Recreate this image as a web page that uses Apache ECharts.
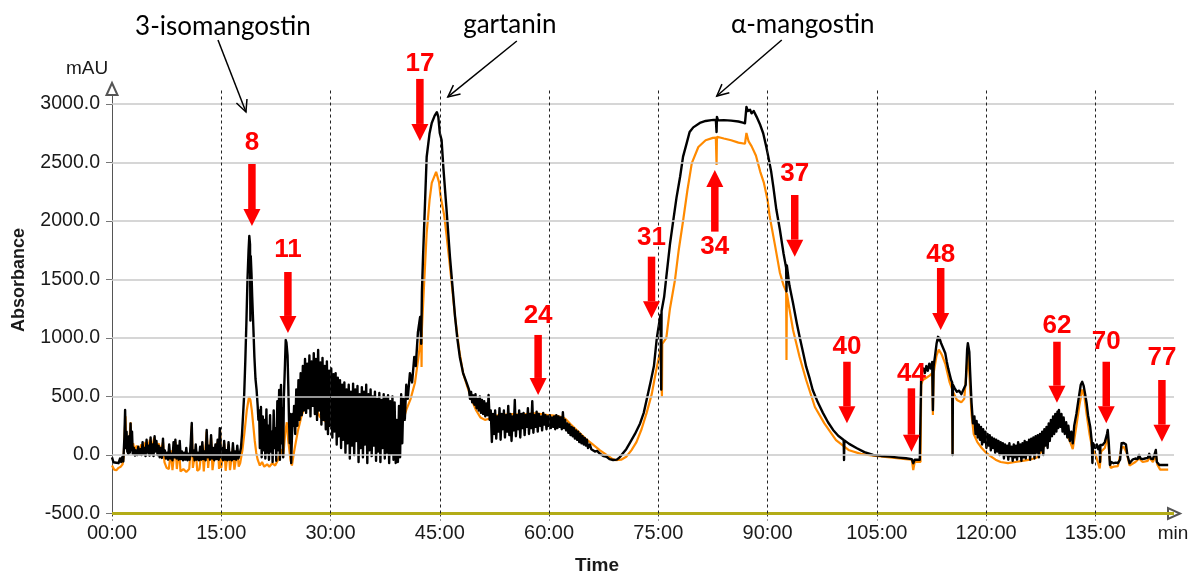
<!DOCTYPE html>
<html>
<head>
<meta charset="utf-8">
<script src="https://cdn.jsdelivr.net/npm/echarts@6/dist/echarts.min.js"></script>
<style>
html,body{margin:0;padding:0;background:#fff;}
#chart{width:1190px;height:575px;}
</style>
</head>
<body>
<div id="chart"></div>
<script>
// ---- axis ticks ----
const xTicks = [0, 15, 30, 45, 60, 75, 90, 105, 120, 135];
const yTicks = [-500, 0, 500, 1000, 1500, 2000, 2500, 3000];
const xMax = 145.8;
const yMin = -500, yMax = 3128;

// ---- traces: [time (min), absorbance (mAU)] ----
const blackTrace = [
[0,-20],[0.2,-62],[0.6,-66],[0.9,-70],[1.1,-30],[1.25,-60],[1.4,-20],[1.55,-55],[1.7,150],[1.8,385],[1.9,60],[2.0,200],[2.1,30],[2.25,10],[2.35,160],[2.45,20],[2.55,270],[2.65,40],[2.75,200],[2.85,10],[3.0,60],[3.15,-5],[3.3,40],[3.45,0],[3.6,70],[3.75,5],[3.9,50],[4.05,0],[4.2,110],[4.3,10],[4.45,60],[4.6,-10],[4.75,130],[4.85,20],[5.0,80],[5.15,-5],[5.3,150],[5.4,10],[5.55,90],[5.7,-10],[5.85,160],[5.95,30],[6.1,120],[6.25,0],[6.4,80],[6.55,-20],[6.7,60],[6.85,-25],[7.0,140],[7.1,0],[7.25,40],[7.4,-30],[7.55,20],[7.7,-40],[7.85,90],[8.0,-30],[8.15,10],[8.3,-45],[8.45,110],[8.55,-20],[8.7,130],[8.85,-30],[9.0,80],[9.15,-40],[9.3,120],[9.45,-35],[9.6,30],[9.75,-45],[9.9,20],[10.05,-40],[10.2,60],[10.35,-45],[10.5,10],[10.65,-40],[10.8,100],[10.95,273],[11.05,-10],[11.2,40],[11.35,-45],[11.5,90],[11.65,-40],[11.8,20],[11.95,-45],[12.1,70],[12.25,-40],[12.4,110],[12.55,-35],[12.7,30],[12.85,-45],[13.0,214],[13.15,-20],[13.3,80],[13.45,-40],[13.6,170],[13.75,-30],[13.9,60],[14.05,-45],[14.2,90],[14.35,-35],[14.5,130],[14.65,-40],[14.8,230],[14.95,-20],[15.1,60],[15.25,-45],[15.4,120],[15.55,-40],[15.7,40],[15.85,-45],[16.0,110],[16.15,-40],[16.3,20],[16.45,-45],[16.6,100],[16.75,-35],[16.9,30],[17.05,-40],[17.2,80],[17.35,-30],
[17.5,0],[17.7,60],[17.85,180],[18.0,350],[18.15,520],[18.3,800],[18.45,1130],[18.6,1500],[18.75,1750],[18.85,1872],[18.95,1800],[19.0,1150],[19.05,1700],[19.15,1550],[19.25,1350],[19.4,1100],[19.55,838],[19.7,650],[19.85,556],[20.0,420],[20.1,300],
[20.2,380],[20.3,60],[20.45,410],[20.55,-20],[20.7,330],[20.8,40],[20.95,300],[21.05,-30],[21.2,390],[21.3,20],[21.45,250],[21.55,-40],[21.7,340],[21.8,30],[21.95,200],[22.05,-60],[22.2,380],[22.3,60],[22.45,230],[22.55,-50],[22.7,460],[22.8,40],[22.95,555],[23.05,-40],[23.2,598],[23.3,100],[23.4,400],[23.5,-20],[23.6,500],
[23.75,780],[23.85,983],[23.95,960],[24.1,850],[24.2,600],[24.3,300],[24.4,100],[24.5,350],[24.6,-68],[24.7,150],[24.8,350],[24.9,250],
[25.0,420],[25.15,180],[25.3,560],[25.45,250],[25.6,640],[25.75,300],[25.9,700],[26.05,340],[26.2,760],[26.35,380],[26.5,820],[26.65,360],[26.8,780],[26.95,400],[27.1,850],[27.25,330],[27.4,800],[27.55,420],[27.7,870],[27.85,350],[28.0,820],[28.15,300],[28.3,897],[28.45,380],[28.6,790],[28.75,260],[28.9,830],[29.05,300],[29.2,760],[29.35,220],[29.5,800],[29.65,180],[29.8,720],[29.95,250],[30.1,740],[30.25,150],[30.4,690],[30.55,200],[30.7,700],[30.85,90],[31.0,660],[31.15,160],[31.3,640],[31.45,60],[31.6,600],[31.75,130],[31.9,620],[32.05,20],[32.2,560],[32.35,100],[32.5,600],[32.65,-30],[32.8,540],[32.95,80],[33.1,610],[33.25,0],[33.4,560],[33.55,120],[33.7,590],[33.85,-60],[34.0,520],[34.15,60],[34.3,580],[34.45,-20],[34.6,540],[34.75,90],[34.9,600],[35.05,-68],[35.2,520],[35.35,40],[35.5,560],[35.65,-10],[35.8,500],[35.95,80],[36.1,540],[36.25,-50],[36.4,480],[36.55,30],[36.7,530],[36.85,-60],[37.0,470],[37.15,60],[37.3,520],[37.45,-30],[37.6,490],[37.75,20],[37.9,510],[38.05,-68],[38.2,460],[38.35,10],[38.5,500],[38.65,-40],[38.8,450],[38.95,-68],[39.1,300],[39.25,-60],[39.4,420],[39.55,-20],[39.7,520],[39.85,100],
[40.0,480],[40.2,300],[40.4,600],[40.6,480],[40.9,700],[41.2,620],[41.5,838],[41.7,760],[42.0,1050],[42.3,1180],[42.45,950],[42.55,1400],[42.7,1692],[43.0,2200],[43.2,2547],[43.6,2750],[43.9,2838],[44.3,2900],[44.6,2930],[44.8,2890],[45.0,2752],[45.25,2692],[45.5,2450],[45.9,2120],[46.4,1692],[46.8,1400],[47.1,1180],[47.4,1000],[47.75,838],[48.2,700],[48.7,615],
[49.0,560],[49.15,480],[49.3,540],[49.45,450],[49.6,510],[49.75,430],[49.9,520],[50.05,400],[50.2,480],[50.35,380],[50.5,500],[50.65,360],[50.8,470],[50.95,350],[51.1,460],[51.25,330],[51.4,440],[51.55,340],[51.7,513],[51.85,300],[52.0,380],[52.15,111],[52.3,350],
[52.45,180],[52.6,380],[52.75,140],[52.9,330],[53.05,200],[53.2,400],[53.35,130],[53.5,350],[53.65,220],[53.8,380],[53.95,150],[54.1,340],[54.25,200],[54.4,420],[54.55,170],[54.7,350],[54.85,120],[55.0,330],[55.15,210],[55.3,470],[55.45,160],[55.6,340],[55.75,220],[55.9,380],[56.05,150],[56.2,350],[56.35,230],[56.5,360],[56.65,170],[56.8,340],[56.95,240],[57.1,400],[57.25,180],[57.4,350],[57.55,230],[57.7,460],[57.85,190],[58.0,340],[58.15,240],[58.3,370],[58.45,200],[58.6,350],[58.75,250],[58.9,330],[59.05,210],[59.2,360],[59.35,260],[59.5,340],[59.65,220],[59.8,330],[59.95,250],[60.1,340],[60.25,230],[60.4,320],[60.55,240],[60.7,330],[60.85,220],[61.0,340],[61.15,230],[61.3,330],[61.45,240],[61.6,320],[61.75,220],[61.9,365],[62.05,230],[62.2,300],[62.35,210],[62.5,270],[62.65,190],[62.8,260],[62.95,170],[63.1,240],[63.25,160],[63.4,230],[63.55,140],[63.7,210],[63.85,130],[64.0,200],[64.15,110],[64.3,180],[64.45,100],[64.6,160],[64.75,90],[64.9,145],[65.05,80],[65.2,130],[65.35,60],[65.6,90],[65.8,50],[66.0,60],[66.3,30],[66.6,35],[67.0,10],[67.5,-10],[67.9,-15],[68.3,-35],[68.8,-43],[69.3,-40],[69.7,-20],[70.2,20],[70.6,50],[71.1,103],[71.8,180],[72.5,270],[73.0,360],[73.5,500],[74.0,640],[74.4,760],[74.8,1000],[75.3,1200],[75.4,560],[75.45,1230],[75.8,1350],[76.1,1520],[76.6,1800],[77.0,1980],[77.5,2200],[78.0,2380],[78.4,2550],[78.9,2665],[79.3,2760],[79.8,2800],[80.7,2838],[81.5,2855],[82.3,2862],[82.9,2865],[83.0,2760],[83.05,2890],[83.2,2860],[84.0,2862],[85.0,2858],[86.0,2850],[86.6,2840],[86.9,2835],[87.1,2975],[87.3,2940],[87.6,2950],[87.8,2920],[88.1,2940],[88.5,2890],[89.0,2820],[89.4,2750],[89.8,2640],[90.1,2550],[90.5,2420],[90.8,2290],[91.2,2100],[91.7,1923],[92.2,1720],[92.55,1600],[92.6,1400],[92.65,1620],[93.0,1450],[93.5,1296],[94.0,1130],[94.4,1010],[94.9,870],[95.3,755],[95.8,650],[96.2,555],[96.9,450],[97.6,360],[98.3,280],[99.0,214],[99.7,165],[100.45,128],[100.5,-43],[100.55,125],[101.2,95],[102.2,60],[103.3,25],[104.5,0],[105.6,-8],[106.8,-14],[108.0,-22],[109.0,-28],[109.8,-35],[110.0,-70],[110.2,-40],[110.9,-40],[111.05,-30],
[111.1,710],[111.4,740],[111.6,700],[111.8,760],[112.0,720],[112.2,780],[112.4,740],[112.6,795],[112.7,385],[112.8,760],[113.0,850],[113.2,950],[113.4,1010],[113.5,980],[113.6,1000],[113.8,960],[114.0,930],[114.2,900],[114.4,870],[114.6,800],[114.8,740],[115.0,690],[115.2,640],[115.35,620],[115.4,0],[115.45,600],[115.7,570],[116.0,540],[116.3,550],[116.6,520],[116.9,560],[117.2,600],[117.4,900],[117.5,955],[117.7,880],[117.8,726],[118.0,450],[118.2,270],[118.4,330],[118.55,180],[118.7,290],[118.85,150],[119.0,260],[119.15,130],[119.3,240],[119.45,90],[119.6,220],[119.75,110],[119.9,200],[120.05,60],[120.2,180],[120.35,80],[120.5,170],[120.65,40],[120.8,150],[120.95,60],[121.1,140],[121.25,20],[121.4,130],[121.55,30],[121.7,120],[121.85,0],[122.0,110],[122.15,10],[122.3,100],[122.45,-30],[122.6,90],[122.75,0],[122.9,80],[123.05,-40],[123.2,100],[123.35,-10],[123.5,70],[123.65,-50],[123.8,90],[123.95,-20],[124.1,80],[124.25,-40],[124.4,110],[124.55,-10],[124.7,90],[124.85,-50],[125.0,100],[125.15,-20],[125.3,120],[125.45,-30],[125.6,110],[125.75,0],[125.9,130],[126.05,-40],[126.2,140],[126.35,10],[126.5,150],[126.65,-30],[126.8,160],[126.95,20],[127.1,170],[127.25,-20],[127.4,180],[127.55,40],[127.7,200],[127.85,0],[128.0,220],[128.15,80],[128.3,240],[128.45,60],[128.6,270],[128.75,120],[128.9,300],[129.05,160],[129.2,330],[129.35,180],[129.5,350],[129.65,200],[129.8,370],[129.9,230],[130.0,385],[130.2,240],[130.35,350],[130.5,200],[130.65,320],[130.8,180],[131.0,280],[131.15,150],[131.3,250],[131.5,120],[131.7,200],[131.9,100],[132.1,250],[132.4,350],[132.7,480],[133.0,600],[133.2,625],[133.4,590],[133.6,520],[133.8,445],[134.0,340],[134.3,240],[134.5,120],[134.6,-68],[134.7,100],[135.0,60],[135.2,90],[135.4,50],[135.6,80],[135.65,-60],[135.7,85],[136.0,85],[136.3,110],[136.6,180],[136.7,214],[136.85,100],[137.0,-85],[137.2,-60],[137.5,-70],[137.8,-65],[138.1,-70],[138.4,-40],[138.6,100],[138.9,103],[139.2,90],[139.4,0],[139.7,-70],[140.1,-40],[140.5,-30],[140.8,-35],[141.0,0],[141.2,-30],[141.5,-35],[141.8,-30],[142.2,-25],[142.4,10],[142.6,-30],[142.9,-35],[143.1,0],[143.3,43],[143.45,-60],[143.8,-85],[144.5,-85],[145.0,-85]
];

const orangeTrace = [
[0,-90],[0.3,-125],[0.6,-130],[0.9,-110],[1.2,-100],[1.45,-80],[1.6,-20],[1.75,200],[1.85,330],[1.95,80],[2.1,120],[2.25,20],[2.45,180],[2.55,280],[2.7,60],[2.9,100],[3.1,40],[3.4,80],[3.7,30],[4.0,90],[4.3,40],[4.6,110],[4.9,50],[5.2,130],[5.5,60],[5.8,150],[6.1,70],[6.4,100],[6.7,30],[7.0,110],[7.2,-60],[7.5,-110],[7.8,-120],[8.1,40],[8.3,-130],[8.7,110],[8.9,-120],[9.2,60],[9.4,-140],[9.8,-120],[10.2,-145],[10.6,-120],[10.85,80],[10.95,250],[11.1,-110],[11.5,50],[11.7,-135],[12.0,-120],[12.4,90],[12.6,-140],[13.0,200],[13.2,-110],[13.6,150],[13.8,-130],[14.2,70],[14.5,110],[14.7,-120],[14.85,210],[15.0,-110],[15.4,100],[15.6,-135],[16.0,90],[16.2,-130],[16.6,60],[16.8,-125],[17.2,40],[17.4,-100],[17.6,-70],
[17.9,40],[18.2,200],[18.5,380],[18.8,496],[19.0,470],[19.2,380],[19.4,250],[19.6,120],[19.8,20],[20.0,-40],[20.3,-90],[20.6,-60],[20.9,-100],[21.3,-80],[21.6,-100],[22.0,-70],[22.4,-90],[22.8,-40],[23.2,50],[23.5,-20],[23.8,200],[24.0,280],[24.2,120],[24.5,-40],[24.7,-90],[25.0,30],[25.5,200],[26.0,330],[26.5,420],[27.0,460],[27.3,496],[27.6,450],[28.0,400],[28.5,330],[29.0,300],[29.5,280],[30.0,270],[31.0,250],[32.0,260],[33.0,240],[34.0,250],[35.0,240],[36.0,250],[37.0,240],[38.0,230],[39.0,220],
[40.0,300],[40.4,385],[41.0,480],[41.6,620],[42.1,850],[42.45,1030],[42.5,752],[42.55,1080],[42.8,1400],[43.2,1895],[43.6,2180],[43.9,2325],[44.5,2420],[44.9,2330],[45.1,2215],[45.3,2200],[45.6,2050],[45.9,1895],[46.4,1610],[47.1,1180],[47.7,880],[48.2,700],[48.7,600],[49.4,470],[50.0,380],[50.6,320],[51.2,300],[51.8,310],[52.3,330],[53.0,340],[54.0,345],[55.0,350],[56.0,345],[57.0,350],[58.0,355],[59.0,350],[60.0,340],[61.0,335],[62.0,320],[62.4,300],[63.0,260],[64.0,200],[65.0,140],[66.0,90],[67.0,40],[67.9,0],[68.6,-30],[69.2,-45],[69.9,-40],[70.6,-15],[71.3,40],[72.0,110],[72.7,220],[73.4,360],[74.1,520],[74.7,720],[75.3,900],[75.5,500],[75.55,950],[76.1,1000],[76.6,1250],[77.3,1500],[77.8,1750],[78.4,2000],[79.0,2265],[79.6,2495],[80.5,2632],[81.5,2690],[82.5,2710],[82.9,2712],[83.0,2478],[83.05,2720],[84.0,2705],[85.0,2690],[86.0,2670],[86.9,2660],[87.1,2752],[87.4,2680],[87.8,2640],[88.4,2560],[89.0,2420],[89.5,2325],[90.0,2180],[90.3,2036],[91.0,1800],[91.7,1555],[92.2,1450],[92.55,1400],[92.6,812],[92.65,1380],[93.0,1250],[93.5,1068],[94.4,838],[95.3,641],[96.5,410],[97.8,270],[99.4,128],[101.2,40],[102.8,10],[104.5,-5],[106.8,-20],[109.0,-35],[109.8,-40],[110.0,-128],[110.2,-60],[111.0,-60],
[111.1,600],[111.3,640],[111.8,660],[112.3,680],[112.6,700],[112.7,342],[112.8,700],[113.2,850],[113.5,900],[113.9,860],[114.4,780],[115.0,620],[115.35,560],[115.4,10],[115.45,540],[116.0,470],[116.6,450],[117.0,480],[117.3,700],[117.5,870],[117.7,700],[118.0,350],[118.3,180],[118.8,110],[119.4,60],[120.0,20],[120.6,-10],[121.3,-40],[122.0,-60],[123.0,-70],[124.0,-60],[125.0,-50],[126.0,-40],[127.0,-20],[127.5,20],[128.0,80],[128.7,160],[129.3,220],[130.0,330],[130.4,250],[131.0,190],[131.5,120],[131.9,50],[132.4,250],[132.8,420],[133.2,560],[133.5,500],[133.8,350],[134.2,180],[134.6,50],[135.0,10],[135.6,-115],[135.8,30],[136.3,60],[136.7,160],[136.9,20],[137.1,-110],[137.5,-100],[138.1,-95],[138.6,60],[138.9,70],[139.3,20],[139.7,-90],[140.5,-60],[141.0,-30],[141.5,-60],[142.2,-50],[142.4,-20],[142.9,-60],[143.3,0],[143.5,-80],[143.9,-125],[145.0,-125]
];

const baselineTrace = [[0, -500], [xMax, -500]];

// ---- red fraction markers ----
const peakLabels = ['8', '11', '17', '24', '31', '34', '37', '40', '44', '48', '62', '70', '77'];
const peakTime   = [19.21, 24.15, 42.27, 58.5, 74.07, 82.76, 93.73, 100.9, 109.75, 113.77, 129.73, 136.5, 144.14];
const peakFrom   = [2487, 1564, 3214, 1026, 1695, 1909, 2222, 797, 570, 1598, 968, 797, 641];
const peakTo     = [1957, 1043, 2684, 513, 1168, 2436, 1695, 271, 28, 1068, 447, 271, 114];
const peakTextV  = [2671, 1752, 3342, 1188, 1859, 1778, 2402, 923, 692, 1709, 1103, 966, 833];

// ---- compound annotations ----
const compoundNames = ['3-isomangostin', 'gartanin', 'α-mangostin'];
const compoundTextT = [15.23, 54.62, 94.83];
const compoundTextV = [3658, 3675, 3675];
const compoundFromT = [14.55, 55.58, 91.95];
const compoundFromV = [3547, 3538, 3547];
const compoundTipT  = [18.39, 46.11, 83.03];
const compoundTipV  = [2932, 3060, 3068];

const gridLinesY = yTicks.filter(v => v > -500);
const gridLinesX = xTicks.filter(v => v > 0);

const chart = echarts.init(document.getElementById('chart'), null, {renderer: 'canvas'});
const labelFont = '"Liberation Sans", Arial, sans-serif';

const option = {
  backgroundColor: '#ffffff',
  animation: false,
  grid: {left: 112, right: 16, top: 89, bottom: 61.5, containLabel: false},
  xAxis: {
    type: 'value', min: 0, max: xMax,
    axisLine: {show: true, onZero: false, lineStyle: {color: '#555', width: 1},
      symbol: ['none', 'emptyTriangle'], symbolSize: [11, 12]},
    axisTick: {show: true, customValues: xTicks, length: 7, lineStyle: {color: '#333', type: [3, 3], width: 1}},
    axisLabel: {customValues: xTicks, margin: 10, fontSize: 20, fontFamily: labelFont, color: '#1a1a1a',
      formatter: v => String(v).padStart(2, '0') + ':00'},
    splitLine: {show: false}
  },
  yAxis: {
    type: 'value', min: yMin, max: yMax,
    axisLine: {show: true, onZero: false, lineStyle: {color: '#555', width: 1},
      symbol: ['none', 'emptyTriangle'], symbolSize: [11, 12]},
    axisTick: {show: true, customValues: yTicks, length: 6, lineStyle: {color: '#777'}},
    axisLabel: {customValues: yTicks, margin: 12, fontSize: 19.5, fontFamily: labelFont, color: '#1a1a1a',
      formatter: v => v.toFixed(1)},
    splitLine: {show: false}
  },
  graphic: [
    {type: 'text', x: 87, y: 69, style: {text: 'mAU', font: '19px ' + labelFont, fill: '#1a1a1a', align: 'center', verticalAlign: 'middle'}},
    {type: 'text', x: 19, y: 280, rotation: Math.PI / 2, style: {text: 'Absorbance', font: 'bold 18px ' + labelFont, fill: '#1a1a1a', align: 'center', verticalAlign: 'middle'}},
    {type: 'text', x: 597, y: 566, style: {text: 'Time', font: 'bold 19px ' + labelFont, fill: '#1a1a1a', align: 'center', verticalAlign: 'middle'}},
    {type: 'text', x: 1173, y: 534, style: {text: 'min', font: '19px ' + labelFont, fill: '#1a1a1a', align: 'center', verticalAlign: 'middle'}}
  ],
  series: [
    {
      name: 'baseline', type: 'line', data: baselineTrace, showSymbol: false, symbol: 'none', z: 1,
      lineStyle: {color: '#b3ac17', width: 3}, silent: true,
      markLine: {
        silent: true, symbol: 'none', label: {show: false}, animation: false,
        data: [
          ...gridLinesY.map(v => ({yAxis: v, lineStyle: {color: '#c8c8c8', width: 1.5, type: 'solid'}})),
          ...gridLinesX.map(v => ({xAxis: v, lineStyle: {color: '#222', width: 1, type: [3, 3]}}))
        ]
      }
    },
    {
      name: 'orange', type: 'line', data: orangeTrace, showSymbol: false, symbol: 'none', z: 2,
      lineStyle: {color: '#ff8a00', width: 2.2}, silent: true
    },
    {
      name: 'black', type: 'line', data: blackTrace, showSymbol: false, symbol: 'none', z: 3,
      lineStyle: {color: '#000000', width: 2.4, join: 'round'}, silent: true
    },
    {
      name: 'fractions', type: 'custom', z: 6, clip: false, silent: true,
      data: peakTime.map((t, i) => [t, peakFrom[i], peakTo[i], peakTextV[i]]),
      renderItem: (params, api) => {
        const i = params.dataIndex;
        const p0 = api.coord([api.value(0), api.value(1)]);
        const p1 = api.coord([api.value(0), api.value(2)]);
        const pl = api.coord([api.value(0), api.value(3)]);
        const dir = p1[1] > p0[1] ? 1 : -1;
        const headLen = 17, shaftW = 7.5, headW = 17;
        const hb = p1[1] - dir * headLen;
        return {type: 'group', children: [
          {type: 'rect', shape: {x: p0[0] - shaftW / 2, y: Math.min(p0[1], hb), width: shaftW, height: Math.abs(hb - p0[1])}, style: {fill: '#ff0000'}},
          {type: 'polygon', shape: {points: [[p0[0] - headW / 2, hb], [p0[0] + headW / 2, hb], [p0[0], p1[1]]]}, style: {fill: '#ff0000'}},
          {type: 'text', x: pl[0], y: pl[1], style: {text: peakLabels[i], font: 'bold 26px ' + labelFont, fill: '#ff0000', align: 'center', verticalAlign: 'middle'}}
        ]};
      }
    },
    {
      name: 'compounds', type: 'custom', z: 6, clip: false, silent: true,
      data: compoundTextT.map((t, i) => [t, compoundTextV[i], compoundFromT[i], compoundFromV[i], compoundTipT[i], compoundTipV[i]]),
      renderItem: (params, api) => {
        const i = params.dataIndex;
        const pt = api.coord([api.value(0), api.value(1)]);
        const pf = api.coord([api.value(2), api.value(3)]);
        const pk = api.coord([api.value(4), api.value(5)]);
        const dx = pk[0] - pf[0], dy = pk[1] - pf[1];
        const L = Math.hypot(dx, dy), ux = dx / L, uy = dy / L;
        const hl = 13, a = 0.45, c = Math.cos(a), s = Math.sin(a);
        const h1 = [pk[0] - hl * (ux * c - uy * s), pk[1] - hl * (uy * c + ux * s)];
        const h2 = [pk[0] - hl * (ux * c + uy * s), pk[1] - hl * (uy * c - ux * s)];
        return {type: 'group', children: [
          {type: 'text', x: pt[0], y: pt[1], style: {text: compoundNames[i], font: '26px Lato, "Open Sans", sans-serif', fill: '#000', align: 'center', verticalAlign: 'middle'}},
          {type: 'line', shape: {x1: pf[0], y1: pf[1], x2: pk[0], y2: pk[1]}, style: {stroke: '#000', lineWidth: 1.5}},
          {type: 'polyline', shape: {points: [h1, pk, h2]}, style: {stroke: '#000', lineWidth: 1.5, fill: null}}
        ]};
      }
    }
  ]
};
chart.setOption(option);
</script>
</body>
</html>
